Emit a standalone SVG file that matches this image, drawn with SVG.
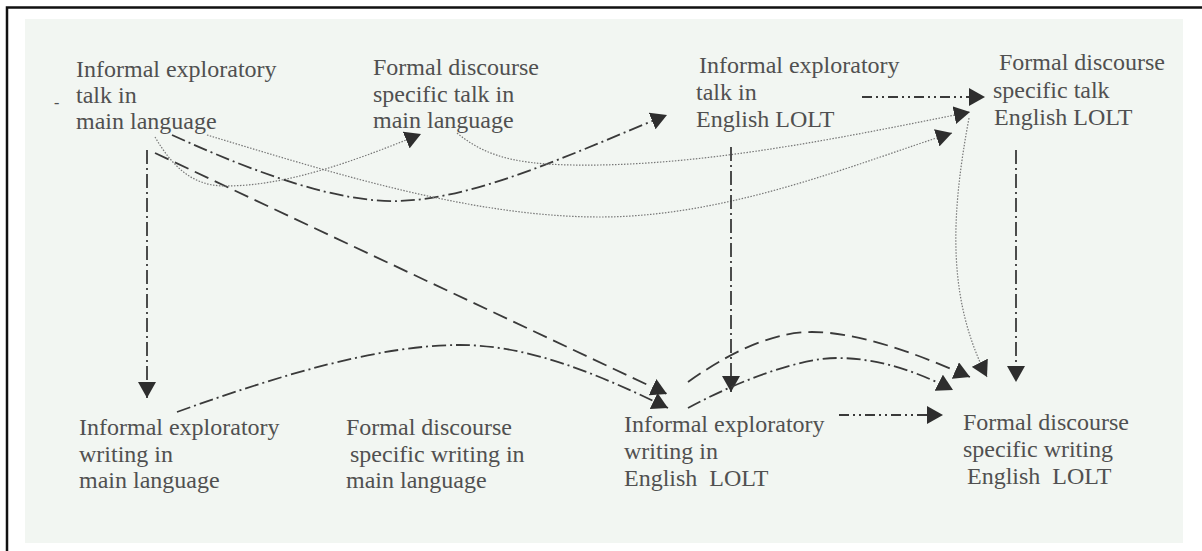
<svg xmlns="http://www.w3.org/2000/svg" width="1202" height="551" viewBox="0 0 1202 551">
<style>
text{font-family:"Liberation Serif","Times New Roman",serif;font-size:24px;fill:#505050}
.c{fill:none;stroke:#3a3a3a;stroke-width:1.8}
.dash{stroke-dasharray:15 7}
.dd{stroke-dasharray:14 4 2 4}
.ddd{stroke-dasharray:10 4 2 4 2 4}
.dot{stroke:#777;stroke-width:1.2;stroke-dasharray:1.5 1.5}
</style>
<defs>
<marker id="arr" markerUnits="userSpaceOnUse" markerWidth="18" markerHeight="18" refX="16" refY="9" orient="auto">
<path d="M0,0 L16,9 L0,18 z" fill="#2e2e2e" stroke="none"/>
</marker>
</defs>
<rect x="0" y="0" width="1202" height="551" fill="#ffffff"/>
<path d="M7,551 V7.5 H1202" fill="none" stroke="#111" stroke-width="2.5"/>
<rect x="25" y="19" width="1158" height="524" fill="#f2f6f2"/>

<g id="connectors">
<path class="c dd" d="M147,150 V398" marker-end="url(#arr)"/>
<path class="c dash" d="M155,153 L667,394" marker-end="url(#arr)"/>
<path class="c dot" d="M155,137 C172,166 192,186 225,186 C285,186 350,163 421,134" marker-end="url(#arr)"/>
<path class="c dd" d="M172,135 C260,175 340,203 400,201 C480,198 580,150 667,115" marker-end="url(#arr)"/>
<path class="c dot" d="M207,135 C330,172 470,217 600,217 C730,217 860,162 952,133" marker-end="url(#arr)"/>
<path class="c dot" d="M457,133 C490,160 525,166 600,165 C720,163 850,136 970,112" marker-end="url(#arr)"/>
<path class="c ddd" d="M862,97 H985" marker-end="url(#arr)"/>
<path class="c dd" d="M731,147 V392" marker-end="url(#arr)"/>
<path class="c dd" d="M1016,150 V382" marker-end="url(#arr)"/>
<path class="c dot" d="M969,118 C950,220 948,300 987,377" marker-end="url(#arr)"/>
<path class="c dd" d="M177,412 C280,375 380,345 460,345 C530,345 600,375 668,408" marker-end="url(#arr)"/>
<path class="c dash" d="M688,382 C740,345 780,332 812,332 C860,332 920,355 970,377" marker-end="url(#arr)"/>
<path class="c dd" d="M688,408 C740,380 800,358 837,358 C880,358 920,373 953,390" marker-end="url(#arr)"/>
<path class="c ddd" d="M839,415 H943" marker-end="url(#arr)"/>
</g>

<g id="node1">
<text x="76" y="77">Informal exploratory</text>
<text x="76" y="103">talk in</text>
<text x="76" y="129">main language</text>
<text x="54" y="108" style="font-size:16px">-</text>
</g>
<g id="node2">
<text x="373" y="75">Formal discourse</text>
<text x="373" y="102">specific talk in</text>
<text x="373" y="128">main language</text>
</g>
<g id="node3">
<text x="699" y="73">Informal exploratory</text>
<text x="696" y="100">talk in</text>
<text x="696" y="127">English LOLT</text>
</g>
<g id="node4">
<text x="999" y="70">Formal discourse</text>
<text x="993" y="98">specific talk</text>
<text x="994" y="125">English LOLT</text>
</g>
<g id="node5">
<text x="79" y="435">Informal exploratory</text>
<text x="79" y="462">writing in</text>
<text x="79" y="488">main language</text>
</g>
<g id="node6">
<text x="346" y="435">Formal discourse</text>
<text x="350" y="462">specific writing in</text>
<text x="346" y="488">main language</text>
</g>
<g id="node7">
<text x="624" y="432">Informal exploratory</text>
<text x="624" y="459">writing in</text>
<text x="624" y="486" xml:space="preserve">English  LOLT</text>
</g>
<g id="node8">
<text x="963" y="430">Formal discourse</text>
<text x="963" y="457">specific writing</text>
<text x="967" y="484" xml:space="preserve">English  LOLT</text>
</g>
</svg>
